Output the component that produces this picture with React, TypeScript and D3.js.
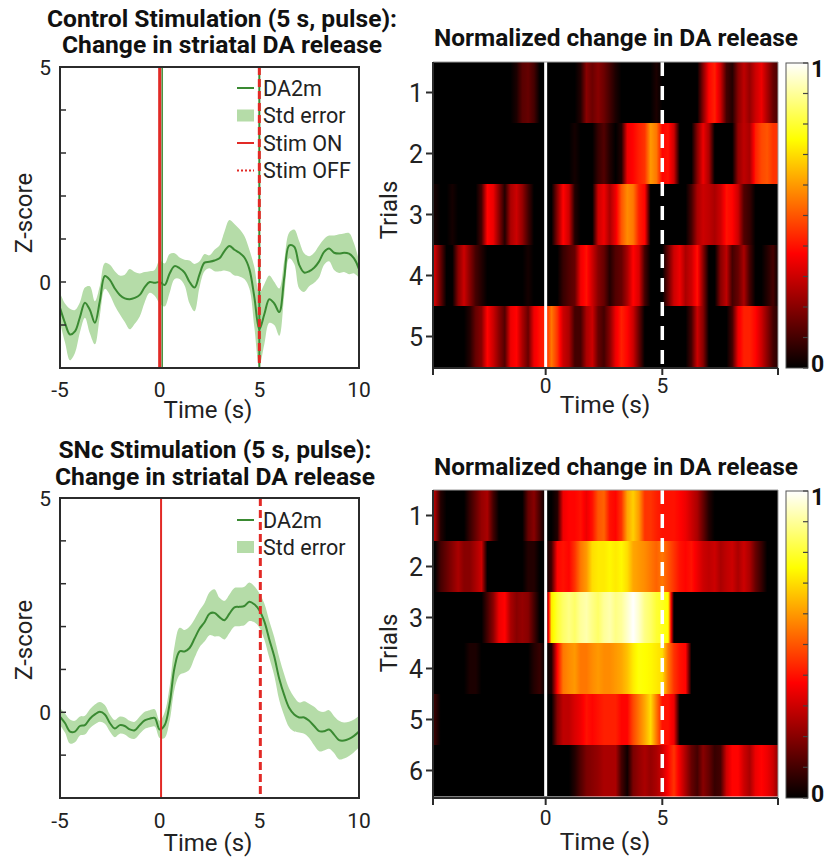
import React from "react";
import * as d3 from "d3";

// ---------- data ----------
const LINE_TIME = d3.range(0, 61).map((i) => -5 + i * 0.25);
const HEAT_TIME = d3.range(0, 60).map((i) => -4.75 + i * 0.25);

const ctrlMean = [
  -0.6, -0.95, -1.22, -1.15,
  -0.82, -0.48, -0.65, -0.95,
  -0.44, 0.14, 0.05, -0.15,
  -0.3, -0.38, -0.4, -0.37,
  -0.3, -0.12, 0.0, -0.02,
  0.0, -0.07, 0.2, 0.37,
  0.32, 0.22, 0.0, -0.13,
  0.18, 0.45, 0.47, 0.5,
  0.55, 0.72, 0.84, 0.75,
  0.68, 0.57, 0.3, -0.35,
  -1.1, -0.75, -0.4, -0.5,
  -0.7, 0.1, 0.85, 0.82,
  0.4, 0.22, 0.25, 0.33,
  0.48, 0.7, 0.78, 0.68,
  0.66, 0.68, 0.66, 0.55,
  0.3,
];
const ctrlErr = [
  0.35, 0.45, 0.6, 0.5,
  0.35, 0.35, 0.55, 0.5,
  0.35, 0.3, 0.35, 0.4,
  0.45, 0.55, 0.7, 0.6,
  0.5, 0.35, 0.25, 0.3,
  0.5, 0.5, 0.45, 0.3,
  0.25, 0.3, 0.5, 0.55,
  0.3, 0.2, 0.15, 0.25,
  0.3, 0.45, 0.6, 0.6,
  0.55, 0.5, 0.45, 0.7,
  0.85, 0.7, 0.55, 0.5,
  0.55, 0.4, 0.3, 0.4,
  0.55, 0.45, 0.35, 0.35,
  0.37, 0.3, 0.3, 0.4,
  0.45, 0.45, 0.48, 0.35,
  0.2,
];
const sncMean = [
  -0.1, -0.25, -0.45, -0.45,
  -0.32, -0.3, -0.15, -0.05,
  0.01, -0.05, -0.25, -0.38,
  -0.3, -0.32, -0.4, -0.42,
  -0.3, -0.19, -0.15, -0.13,
  -0.4, -0.3, 0.2, 1.05,
  1.42, 1.42, 1.5, 1.72,
  1.95, 2.1, 2.3, 2.32,
  2.22, 2.15, 2.3, 2.45,
  2.46, 2.48, 2.58, 2.52,
  2.38, 2.12, 1.7, 1.3,
  0.78, 0.4, 0.1, -0.05,
  -0.12, -0.12, -0.2, -0.32,
  -0.44, -0.44, -0.4, -0.52,
  -0.65, -0.66, -0.62, -0.55,
  -0.45,
];
const sncErr = [
  0.2, 0.22, 0.28, 0.25,
  0.22, 0.22, 0.22, 0.23,
  0.23, 0.22, 0.2, 0.2,
  0.2, 0.2, 0.2, 0.2,
  0.2, 0.2, 0.2, 0.2,
  0.2, 0.3, 0.4, 0.5,
  0.55, 0.5, 0.5, 0.45,
  0.43, 0.45, 0.5, 0.55,
  0.45, 0.45, 0.45, 0.45,
  0.45, 0.45, 0.45, 0.42,
  0.4, 0.42, 0.43, 0.45,
  0.5, 0.48, 0.45, 0.4,
  0.35, 0.38, 0.4, 0.45,
  0.47, 0.45, 0.45, 0.43,
  0.45, 0.42, 0.4, 0.38,
  0.37,
];

const ctrlTrials = [
  [0, 0, 0, 0, 0, 0, 0, 0, 0, 0, 0, 0, 0, 0, 0.04, 0.13, 0.15, 0.1, 0, 0, 0, 0, 0, 0, 0, 0.05, 0.2, 0.16, 0.2, 0.16, 0.1, 0.04, 0, 0, 0, 0, 0, 0, 0.04, 0, 0, 0, 0, 0, 0, 0, 0.2, 0.38, 0.42, 0.3, 0.1, 0.05, 0.2, 0.28, 0.22, 0.3, 0.35, 0.25, 0.15, 0.1],
  [0, 0, 0, 0, 0, 0, 0, 0, 0, 0, 0, 0, 0, 0, 0, 0, 0, 0, 0, 0, 0, 0, 0, 0, 0.03, 0, 0, 0, 0.08, 0.12, 0.05, 0, 0.05, 0.35, 0.38, 0.42, 0.45, 0.6, 0.55, 0.38, 0.4, 0.3, 0, 0, 0, 0.2, 0.35, 0.25, 0, 0, 0, 0, 0.22, 0.28, 0.25, 0.42, 0.48, 0.5, 0.45, 0.45],
  [0.03, 0, 0, 0.03, 0, 0, 0, 0, 0.1, 0.38, 0.35, 0.2, 0.05, 0.25, 0.3, 0.22, 0.1, 0, 0, 0, 0, 0.2, 0.38, 0.3, 0.05, 0, 0, 0, 0.3, 0.35, 0.25, 0.35, 0.5, 0.58, 0.55, 0.42, 0.38, 0, 0, 0, 0, 0, 0, 0, 0.1, 0.25, 0.3, 0.28, 0.25, 0.3, 0.4, 0.38, 0.3, 0.12, 0.08, 0, 0, 0, 0, 0],
  [0.3, 0.15, 0, 0, 0.2, 0.3, 0.2, 0.1, 0.05, 0, 0, 0, 0, 0, 0, 0, 0.03, 0, 0, 0, 0, 0, 0.08, 0.12, 0.15, 0.35, 0.4, 0.3, 0.2, 0.15, 0.05, 0.12, 0.15, 0.25, 0.38, 0.32, 0.1, 0, 0, 0, 0.15, 0.3, 0.35, 0.25, 0.3, 0.4, 0.2, 0, 0, 0.2, 0.28, 0.1, 0.15, 0.25, 0.1, 0, 0, 0.05, 0.1, 0],
  [0, 0, 0, 0, 0, 0, 0.05, 0.15, 0.2, 0.38, 0.3, 0.2, 0.12, 0.35, 0.38, 0.25, 0.15, 0.35, 0.4, 0.42, 0.55, 0.45, 0.3, 0.25, 0.1, 0.1, 0.25, 0.3, 0.15, 0.1, 0.2, 0.35, 0.42, 0.38, 0.3, 0.15, 0, 0, 0, 0, 0, 0, 0, 0, 0.1, 0.3, 0.2, 0, 0, 0, 0, 0.1, 0.35, 0.42, 0.42, 0.38, 0.3, 0.2, 0.1, 0.05],
];
const sncTrials = [
  [0.25, 0.05, 0, 0, 0, 0, 0.08, 0.15, 0.22, 0.25, 0.1, 0, 0, 0, 0, 0, 0.15, 0.2, 0.1, 0, 0, 0.05, 0.35, 0.38, 0.38, 0.4, 0.35, 0.4, 0.5, 0.52, 0.4, 0.38, 0.45, 0.62, 0.68, 0.6, 0.45, 0.45, 0.42, 0.4, 0.4, 0.4, 0.38, 0.35, 0.3, 0.25, 0.15, 0.05, 0, 0, 0, 0, 0, 0, 0, 0, 0, 0, 0, 0],
  [0, 0.1, 0.15, 0.2, 0.25, 0.2, 0.2, 0.25, 0.3, 0, 0, 0, 0, 0, 0, 0, 0.05, 0.05, 0, 0, 0.1, 0.38, 0.4, 0.38, 0.45, 0.55, 0.6, 0.7, 0.72, 0.72, 0.74, 0.72, 0.74, 0.7, 0.62, 0.6, 0.58, 0.55, 0.52, 0.55, 0.5, 0.45, 0.4, 0.38, 0.4, 0.35, 0.3, 0.28, 0.3, 0.25, 0.28, 0.3, 0.25, 0.3, 0.25, 0.15, 0.08, 0, 0, 0],
  [0, 0, 0, 0, 0, 0, 0, 0, 0, 0.1, 0.2, 0.35, 0.38, 0.25, 0.2, 0.22, 0.2, 0.1, 0, 0, 0.72, 0.8, 0.85, 0.88, 0.85, 0.9, 0.92, 0.88, 0.85, 0.9, 0.92, 0.88, 0.9, 0.95, 1.0, 0.95, 0.88, 0.85, 0.8, 0.78, 0.75, 0, 0, 0, 0, 0, 0, 0, 0, 0, 0, 0, 0, 0, 0, 0, 0, 0, 0, 0],
  [0, 0, 0, 0, 0, 0, 0.04, 0.04, 0, 0, 0, 0, 0, 0, 0, 0, 0, 0.05, 0.08, 0, 0.05, 0.38, 0.55, 0.58, 0.6, 0.55, 0.55, 0.58, 0.6, 0.58, 0.58, 0.6, 0.62, 0.66, 0.72, 0.76, 0.75, 0.74, 0.72, 0.7, 0.55, 0.45, 0.4, 0.38, 0, 0, 0, 0, 0, 0, 0, 0, 0, 0, 0, 0, 0, 0, 0, 0],
  [0.08, 0, 0, 0, 0, 0, 0, 0, 0, 0, 0, 0, 0, 0, 0, 0, 0, 0, 0, 0, 0, 0.2, 0.28, 0.28, 0.32, 0.35, 0.4, 0.38, 0.4, 0.42, 0.42, 0.42, 0.38, 0.38, 0.48, 0.55, 0.62, 0.7, 0.55, 0.4, 0.4, 0.35, 0, 0, 0, 0, 0, 0, 0, 0, 0, 0, 0, 0, 0, 0, 0, 0, 0, 0],
  [0, 0, 0, 0, 0, 0, 0, 0, 0, 0, 0, 0, 0, 0, 0, 0, 0, 0, 0, 0, 0, 0, 0, 0, 0.05, 0.12, 0.18, 0.2, 0.22, 0.25, 0.25, 0.25, 0.1, 0.02, 0.18, 0.22, 0.25, 0.22, 0.25, 0.3, 0.38, 0.45, 0.35, 0.25, 0.15, 0.1, 0.2, 0.15, 0.08, 0.1, 0.3, 0.38, 0.38, 0.3, 0.25, 0.35, 0.38, 0.35, 0.3, 0.2],
];

const LINE_X_TICKS = [-5, 0, 5, 10];
const LINE_Y_TICKS = [-1, 0, 1, 2, 3, 4, 5];
const LINE_Y_LABELS = [0, 5];
const HEAT_X_LABELS = [0, 5];
const COLORBAR_TICKS = d3.range(0, 11).map((i) => i / 10);

const FONT = "Roboto, 'Noto Sans', sans-serif";
const GREEN = "#3a8a32";
const BAND = "#b5dca8";
const RED = "#e22a26";
const AXIS = "#2b2b2b";

function hot(v: number) {
  const c = Math.max(0, Math.min(1, v));
  const r = Math.min(1, c / 0.375);
  const g = Math.max(0, Math.min(1, (c - 0.375) / 0.375));
  const b = Math.max(0, Math.min(1, (c - 0.75) / 0.25));
  return d3.rgb(r * 255, g * 255, b * 255).formatHex();
}

type LineCfg = {
  id: string;
  titles: string[];
  titleWidths: number[];
  titleX: number;
  titleYs: number[];
  mean: number[];
  err: number[];
  top: number;
  bottom: number;
  legend: { label: string; kind: string }[];
  legendY0: number;
  legendDy: number;
  thickOn: boolean;
  onT: number;
  offT: number;
  tickY: number;
  labelY: number;
  zY: number;
};

function LinePanel({ c }: { c: LineCfg }) {
  const x = d3.scaleLinear().domain([-5, 10]).range([60, 359]);
  const y = d3.scaleLinear().domain([-2, 5]).range([c.bottom, c.top]);
  const area = d3
    .area<number>()
    .x((_, i) => x(LINE_TIME[i]))
    .y0((d, i) => y(d - c.err[i]))
    .y1((d, i) => y(d + c.err[i]))
    .curve(d3.curveCatmullRom);
  const line = d3
    .line<number>()
    .x((_, i) => x(LINE_TIME[i]))
    .y((d) => y(d))
    .curve(d3.curveCatmullRom);
  return (
    <g>
      {c.titles.map((t, i) => (
        <text key={i} x={c.titleX} y={c.titleYs[i]} textAnchor="middle" fontFamily={FONT} fontWeight={700} fontSize={23} fill="#111" textLength={c.titleWidths[i]} lengthAdjust="spacingAndGlyphs">
          {t}
        </text>
      ))}
      <defs>
        <clipPath id={"clip" + c.id}>
          <rect x={60} y={c.top} width={299} height={c.bottom - c.top} />
        </clipPath>
      </defs>
      <g clipPath={`url(#clip${c.id})`}>
        <path d={area(c.mean) || ""} fill={BAND} />
        <path d={line(c.mean) || ""} fill="none" stroke={GREEN} strokeWidth={2} />
        {c.thickOn && (
          <>
            <line x1={x(c.onT) + 2.5} x2={x(c.onT) + 2.5} y1={c.top} y2={c.bottom} stroke={GREEN} strokeWidth={1.5} />
            <line x1={x(c.offT)} x2={x(c.offT)} y1={c.top} y2={c.bottom} stroke={GREEN} strokeWidth={2} />
          </>
        )}
        <line x1={x(c.onT)} x2={x(c.onT)} y1={c.top} y2={c.bottom} stroke={RED} strokeWidth={c.thickOn ? 3 : 2} />
        <line x1={x(c.offT)} x2={x(c.offT)} y1={c.top} y2={c.bottom} stroke={RED} strokeWidth={3} strokeDasharray="8 4" />
      </g>
      <rect x={60} y={c.top} width={299} height={c.bottom - c.top} fill="none" stroke={AXIS} strokeWidth={2} />
      {LINE_Y_TICKS.map((t) => (
        <line key={t} x1={60} x2={66} y1={y(t)} y2={y(t)} stroke={AXIS} strokeWidth={1.5} />
      ))}
      {LINE_Y_LABELS.map((t) => (
        <text key={t} x={51} y={y(t)} dy="0.36em" textAnchor="end" fontFamily={FONT} fontSize={21} fill="#222">
          {t}
        </text>
      ))}
      {LINE_X_TICKS.map((t) => (
        <text key={t} x={x(t)} y={c.tickY} textAnchor="middle" fontFamily={FONT} fontSize={21} fill="#222">
          {t}
        </text>
      ))}
      <text x={208} y={c.labelY} textAnchor="middle" fontFamily={FONT} fontSize={24} fill="#222">
        Time (s)
      </text>
      <text transform={`translate(32,${c.zY}) rotate(-90)`} textAnchor="middle" fontFamily={FONT} fontSize={24} fill="#222">
        Z-score
      </text>
      {c.legend.map((L, i) => {
        const ly = c.legendY0 + i * c.legendDy;
        return (
          <g key={L.label}>
            {L.kind === "line" && <line x1={237} x2={254} y1={ly} y2={ly} stroke={GREEN} strokeWidth={2} />}
            {L.kind === "band" && <rect x={237} y={ly - 6} width={17} height={12} fill={BAND} />}
            {L.kind === "on" && <line x1={237} x2={254} y1={ly} y2={ly} stroke={RED} strokeWidth={2} />}
            {L.kind === "off" && <line x1={237} x2={254} y1={ly} y2={ly} stroke={RED} strokeWidth={2} strokeDasharray="2 2" />}
            <text x={263} y={ly} dy="0.36em" fontFamily={FONT} fontSize={21.5} fill="#222">
              {L.label}
            </text>
          </g>
        );
      })}
    </g>
  );
}

type HeatCfg = {
  id: string;
  title: string;
  titleY: number;
  rows: number[][];
  top: number;
  bottom: number;
  axisY: number;
  tickY: number;
  labelY: number;
  trialsY: number;
};

function HeatPanel({ c }: { c: HeatCfg }) {
  const x = d3.scaleLinear().domain([-4.83, 9.96]).range([433, 778]);
  const [x0, x1] = x.range();
  const rowIds = c.rows.map((_, i) => i + 1);
  const yb = d3.scaleBand<number>().domain(rowIds).range([c.top, c.bottom]);
  const stopsFor = (vals: number[]) => {
    const out: { o: number; col: string }[] = [];
    for (let i = 0; i < vals.length; i++) {
      const nk = i < vals.length - 1 ? 6 : 1;
      for (let k = 0; k < nk; k++) {
        const f = k / 6;
        const t = HEAT_TIME[i] + f * 0.25;
        const v = i < vals.length - 1 ? vals[i] + (vals[i + 1] - vals[i]) * f : vals[i];
        const o = (x(t) - x0) / (x1 - x0);
        if (o >= 0 && o <= 1) out.push({ o, col: hot(v) });
      }
    }
    return out;
  };
  const cbTop = c.top + 1;
  const cbBot = c.axisY;
  const cb = d3.scaleLinear().domain([0, 1]).range([cbBot, cbTop]);
  return (
    <g>
      <defs>
        {c.rows.map((vals, r) => (
          <linearGradient key={r} id={`g${c.id}${r}`} gradientUnits="userSpaceOnUse" x1={x0} x2={x1} y1={0} y2={0}>
            {stopsFor(vals).map((s, j) => (
              <stop key={j} offset={s.o} stopColor={s.col} />
            ))}
          </linearGradient>
        ))}
        <linearGradient id={`cb${c.id}`} x1={0} x2={0} y1={1} y2={0}>
          {d3.range(0, 41).map((j) => (
            <stop key={j} offset={j / 40} stopColor={hot(j / 40)} />
          ))}
        </linearGradient>
      </defs>
      <text x={616} y={c.titleY} textAnchor="middle" fontFamily={FONT} fontWeight={700} fontSize={23} fill="#111" textLength={364} lengthAdjust="spacingAndGlyphs">
        {c.title}
      </text>
      {c.rows.map((_, r) => (
        <rect key={r} x={x0} y={yb(r + 1)} width={x1 - x0} height={yb.bandwidth() + 0.5} fill={`url(#g${c.id}${r})`} />
      ))}
      <line x1={x(0)} x2={x(0)} y1={c.top} y2={c.bottom} stroke="#fff" strokeWidth={3} />
      <line x1={x(5)} x2={x(5)} y1={c.top} y2={c.bottom} stroke="#fff" strokeWidth={3.5} strokeDasharray="14 10" />
      <line x1={x0} x2={x1} y1={c.top} y2={c.top} stroke="#999" strokeWidth={1} />
      <line x1={x1} x2={x1} y1={c.top} y2={c.axisY} stroke="#999" strokeWidth={1} />
      <line x1={x0} x2={x0} y1={c.top} y2={c.axisY} stroke={AXIS} strokeWidth={2} />
      <line x1={x0 - 1} x2={x1} y1={c.axisY} y2={c.axisY} stroke={AXIS} strokeWidth={2} />
      {[x.domain()[0], 0, 5, x.domain()[1]].map((t, i) => (
        <line key={i} x1={x(t)} x2={x(t)} y1={c.axisY} y2={c.axisY + 7} stroke={AXIS} strokeWidth={2} />
      ))}
      {HEAT_X_LABELS.map((t) => (
        <text key={t} x={x(t)} y={c.tickY} textAnchor="middle" fontFamily={FONT} fontSize={21} fill="#222">
          {t}
        </text>
      ))}
      <text x={605} y={c.labelY} textAnchor="middle" fontFamily={FONT} fontSize={24.5} fill="#222">
        Time (s)
      </text>
      {rowIds.map((r) => {
        const cy = (yb(r) as number) + yb.bandwidth() / 2;
        return (
          <g key={r}>
            <line x1={x0 - 7} x2={x0} y1={cy} y2={cy} stroke={AXIS} strokeWidth={2} />
            <text x={423} y={cy} dy="0.36em" textAnchor="end" fontFamily={FONT} fontSize={25} fill="#222">
              {r}
            </text>
          </g>
        );
      })}
      <text transform={`translate(397,${c.trialsY}) rotate(-90)`} textAnchor="middle" fontFamily={FONT} fontSize={24} fill="#222">
        Trials
      </text>
      <rect x={786} y={cbTop} width={22} height={cbBot - cbTop} fill={`url(#cb${c.id})`} stroke="#555" strokeWidth={1} />
      {COLORBAR_TICKS.map((t) => (
        <line key={t} x1={803} x2={808} y1={cb(t)} y2={cb(t)} stroke="#444" strokeWidth={1.2} />
      ))}
      <text x={811} y={cb(1) + 6} dy="0.36em" fontFamily={FONT} fontWeight={700} fontSize={23} fill="#111">
        1
      </text>
      <text x={811} y={cb(0) - 4} dy="0.36em" fontFamily={FONT} fontWeight={700} fontSize={23} fill="#111">
        0
      </text>
    </g>
  );
}

const ctrlCfg: LineCfg = {
  id: "a",
  titles: ["Control Stimulation (5 s, pulse):", "Change in striatal DA release"],
  titleWidths: [350, 320],
  titleX: 222,
  titleYs: [27, 53],
  mean: ctrlMean,
  err: ctrlErr,
  top: 67,
  bottom: 368,
  legend: [
    { label: "DA2m", kind: "line" },
    { label: "Std error", kind: "band" },
    { label: "Stim ON", kind: "on" },
    { label: "Stim OFF", kind: "off" },
  ],
  legendY0: 88,
  legendDy: 27.5,
  thickOn: true,
  onT: 0,
  offT: 5,
  tickY: 397,
  labelY: 418,
  zY: 213,
};

const sncCfg: LineCfg = {
  id: "b",
  titles: ["SNc Stimulation (5 s, pulse):", "Change in striatal DA release"],
  titleWidths: [313, 320],
  titleX: 215,
  titleYs: [458, 485],
  mean: sncMean,
  err: sncErr,
  top: 498,
  bottom: 798,
  legend: [
    { label: "DA2m", kind: "line" },
    { label: "Std error", kind: "band" },
  ],
  legendY0: 520,
  legendDy: 27,
  thickOn: false,
  onT: 0.07,
  offT: 5.05,
  tickY: 828,
  labelY: 851,
  zY: 640,
};

const heatTop: HeatCfg = {
  id: "t",
  title: "Normalized change in DA release",
  titleY: 46,
  rows: ctrlTrials,
  top: 62,
  bottom: 367,
  axisY: 368,
  tickY: 393,
  labelY: 413,
  trialsY: 210,
};

const heatBot: HeatCfg = {
  id: "u",
  title: "Normalized change in DA release",
  titleY: 475,
  rows: sncTrials,
  top: 490,
  bottom: 796,
  axisY: 798,
  tickY: 825,
  labelY: 850,
  trialsY: 643,
};

export default function App() {
  return (
    <svg width={825} height={858} style={{ position: "absolute", left: 0, top: 0, background: "#fff" }}>
      <rect width={825} height={858} fill="#fff" />
      <LinePanel c={ctrlCfg} />
      <LinePanel c={sncCfg} />
      <HeatPanel c={heatTop} />
      <HeatPanel c={heatBot} />
    </svg>
  );
}
